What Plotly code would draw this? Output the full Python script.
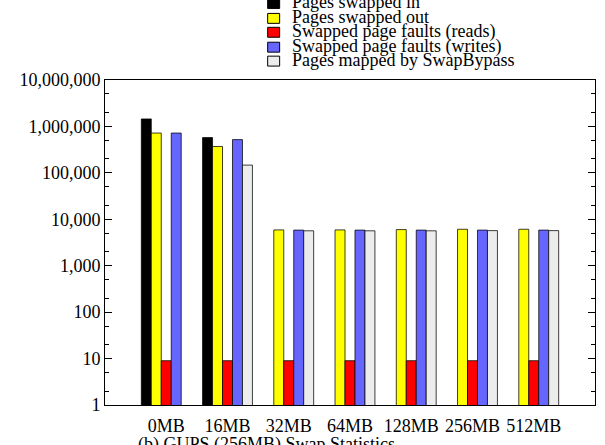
import plotly.graph_objects as go

categories = ["0MB", "16MB", "32MB", "64MB", "128MB", "256MB", "512MB"]
series_names = [
    "Pages swapped in",
    "Pages swapped out",
    "Swapped page faults (reads)",
    "Swapped page faults (writes)",
    "Pages mapped by SwapBypass",
]
swapped_in = [1450000, 575000, None, None, None, None, None]
swapped_out = [720000, 370000, 5900, 5900, 6000, 6100, 6100]
faults_reads = [9, 9, 9, 9, 9, 9, 9]
faults_writes = [720000, 520000, 5850, 5850, 5850, 5850, 5850]
bypass_mapped = [None, 147000, 5650, 5650, 5650, 5700, 5700]
series_values = [swapped_in, swapped_out, faults_reads, faults_writes, bypass_mapped]
colors = ["#000000", "#ffff00", "#ff0000", "#6666ff", "#ececec"]

ytick_vals = [1, 10, 100, 1000, 10000, 100000, 1000000, 10000000]
ytick_text = ["1", "10", "100", "1,000", "10,000", "100,000", "1,000,000", "10,000,000"]
minor_vals = [m * 10 ** e for e in range(7) for m in (2, 5)]
caption = "(b) GUPS (256MB) Swap Statistics"

FONT = "Liberation Serif"
FS = 18
W, H = 605, 445
L, R, T, B = 105, 9, 80, 38

fig = go.Figure()
for name, vals, col in zip(series_names, series_values, colors):
    fig.add_trace(go.Bar(
        x=categories, y=vals, name=name, showlegend=False,
        marker=dict(color=col, line=dict(color="rgba(0,0,0,0.75)", width=1)),
    ))

# manual legend (compact spacing)
def py(p):  # pixel y -> paper
    return (H - B - p) / (H - T - B)

def px(p):
    return (p - L) / (W - L - R)

row_centers = [3, 18, 32, 47, 61]
for name, col, yc in zip(series_names, colors, row_centers):
    fig.add_shape(type="rect", xref="paper", yref="paper",
                  x0=px(268), x1=px(280), y0=py(yc + 5), y1=py(yc - 5),
                  fillcolor=col, line=dict(color="black", width=1))
    fig.add_annotation(text=name, xref="paper", yref="paper",
                       x=px(290), y=py(yc - 1), xanchor="left", yanchor="middle",
                       showarrow=False, font=dict(family=FONT, size=FS, color="black"))

fig.add_annotation(text=caption, xref="paper", yref="paper",
                   x=px(136), y=py(447), xanchor="left", yanchor="middle",
                   showarrow=False, font=dict(family=FONT, size=FS, color="black"))

fig.update_layout(
    width=W, height=H,
    margin=dict(l=L, r=R, t=T, b=B),
    paper_bgcolor="white", plot_bgcolor="white",
    barmode="group", bargap=0.186, bargroupgap=0,
    font=dict(family=FONT, size=FS, color="black"),
)
fig.update_xaxes(
    range=[-1, 7], showline=True, linecolor="black", linewidth=1, mirror=True,
    ticks="", showgrid=False, ticklabelstandoff=4,
    tickfont=dict(family=FONT, size=FS, color="black"),
)
fig.update_yaxes(
    type="log", range=[0, 7], showline=True, linecolor="black", linewidth=1, mirror="ticks",
    tickvals=ytick_vals, ticktext=ytick_text, ticks="inside", ticklen=7, tickcolor="black",
    showgrid=False, zeroline=False,
    minor=dict(tickvals=minor_vals, ticks="inside", ticklen=4, tickcolor="black", showgrid=False),
    tickfont=dict(family=FONT, size=FS, color="black"),
)

fig.write_html("out.html")
